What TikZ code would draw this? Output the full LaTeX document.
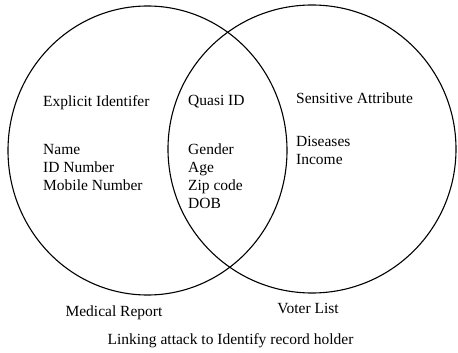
\documentclass[tikz,border=0pt]{standalone}
\usepackage{fontspec}
\setmainfont{Liberation Serif}
\begin{document}
\begin{tikzpicture}[
        x                 = 1pt,
        y                 = -1pt,
        set/.style        = {draw, line width=1.1pt},
        entry/.style      = {anchor=north west, inner sep=0pt, align=left,
                             font=\fontsize{15.5}{18}\selectfont},
        caption/.style    = {anchor=base, inner sep=0pt,
                             font=\fontsize{15.5}{18}\selectfont},
      ]
    \useasboundingbox (0,0) rectangle (458,353);
    % the two record sets
    \draw[set] (147.5,150.5) ellipse [x radius=139.5pt, y radius=144.5pt];
    \draw[set] (312,149) circle [radius=144pt];
    % left part
    \node[entry] (explicit) at (43,95) {Explicit Identifer};
    \node[entry] (explicitlist) at (43,144) {Name\\ID Number\\Mobile Number};
    % overlap
    \node[entry] (quasi) at (188,95) {Quasi ID};
    \node[entry] (quasilist) at (188,144) {Gender\\Age\\Zip code\\DOB};
    % right part
    \node[entry] (sensitive) at (296,93) {Sensitive Attribute};
    \node[entry] (sensitivelist) at (296,136) {Diseases\\Income};
    % set names and caption
    \node[caption] (medical) at (114,316) {Medical Report};
    \node[caption] (voter) at (308,313) {Voter List};
    \node[caption] (linking) at (230.5,344) {Linking attack to Identify record holder};
\end{tikzpicture}
\end{document}
